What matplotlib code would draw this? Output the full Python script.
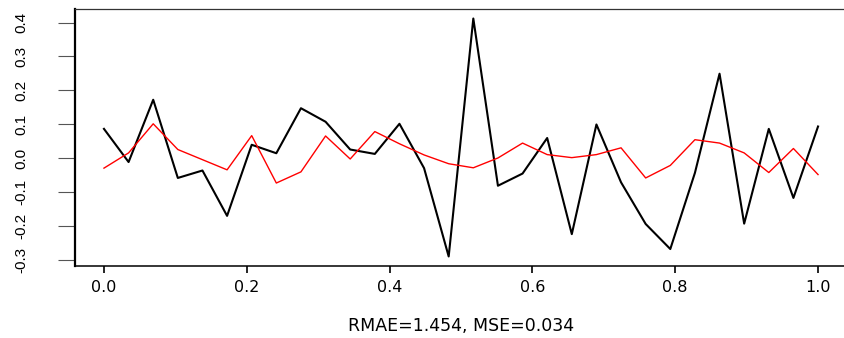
import numpy as np
import matplotlib
matplotlib.use("Agg")
from matplotlib import pyplot as plt

# observed series (black) and fitted series (red), 30 equally spaced points on [0, 1]
N_POINTS = 30
observed = [0.086, -0.012, 0.172, -0.059, -0.037, -0.171, 0.039, 0.014, 0.147, 0.107,
            0.025, 0.012, 0.101, -0.030, -0.291, 0.412, -0.082, -0.046, 0.059, -0.225,
            0.099, -0.072, -0.195, -0.269, -0.044, 0.249, -0.194, 0.086, -0.118, 0.093]
fitted = [-0.030, 0.015, 0.101, 0.025, -0.005, -0.035, 0.066, -0.074, -0.041, 0.065,
          -0.003, 0.078, 0.042, 0.009, -0.017, -0.029, 0.000, 0.044, 0.010, 0.001,
          0.010, 0.030, -0.059, -0.022, 0.054, 0.044, 0.015, -0.043, 0.028, -0.049]
XTICKS = [0.0, 0.2, 0.4, 0.6, 0.8, 1.0]
YTICKS = [-0.3, -0.2, -0.1, 0.0, 0.1, 0.2, 0.3, 0.4]
XLABEL = "RMAE=1.454, MSE=0.034"

x = np.linspace(0, 1, N_POINTS)

W, H = 845, 338
fig = plt.figure(figsize=(W / 100, H / 100), dpi=100)
# axes box in pixels: left 75.4, right 846.6, top 9, bottom 266
ax = fig.add_axes([75.4 / W, 1 - 266 / H, (846.6 - 75.4) / W, (266 - 9) / H])

ax.plot(x, observed, color="black", lw=1.5)
ax.plot(x, fitted, color="#ff0000", lw=1.0)

# R-style 4% padding
lo, hi = min(min(observed), min(fitted)), max(max(observed), max(fitted))
pad = 0.04 * (hi - lo)
ax.set_xlim(-0.04, 1.04)
ax.set_ylim(lo - pad, hi + pad)

ax.set_xticks(XTICKS)
ax.set_xticklabels(["%.1f" % v for v in XTICKS], fontsize=11.5, family="DejaVu Sans")
ax.set_yticks(YTICKS)
ax.set_yticklabels(["%.1f" % v for v in YTICKS], rotation=90, va="center",
                   fontsize=11, family="Liberation Sans")

ax.tick_params(axis="x", length=5, width=1.2, pad=5, color="black")
ax.tick_params(axis="y", length=12, width=0.8, pad=22, color="#555555")

ax.spines["right"].set_visible(False)
ax.spines["top"].set_linewidth(0.9)
ax.spines["top"].set_color("#333333")
ax.spines["bottom"].set_linewidth(1.1)
ax.spines["left"].set_linewidth(1.6)

ax.set_xlabel(XLABEL, fontsize=12.5, family="DejaVu Sans", labelpad=16)

fig.savefig("out.png", dpi=100)
plt.close(fig)
